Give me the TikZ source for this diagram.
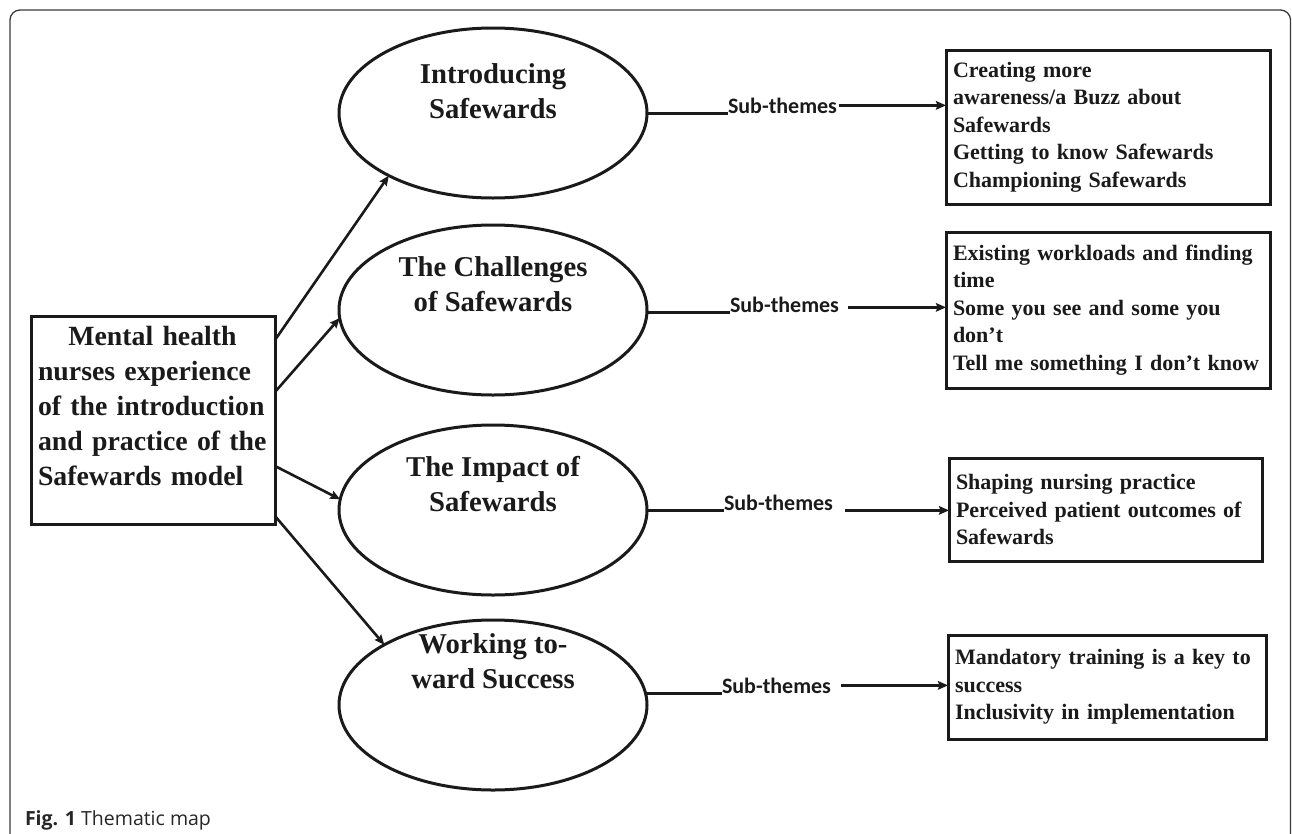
\documentclass[tikz,border=0pt]{standalone}
\usepackage{fontspec}
\setmainfont{Liberation Serif}
\newfontfamily\subfont{Carlito}
\newfontfamily\capfont{Open Sans}
\usetikzlibrary{shapes.geometric,arrows.meta,calc}
\definecolor{ink}{HTML}{1A1A1A}
\definecolor{framec}{HTML}{3A3A3A}
\begin{document}
\begin{tikzpicture}[x=1pt,y=-1pt,
  every node/.style={inner sep=0pt,outer sep=0pt,text=ink},
  theme/.style={ellipse,draw=ink,line width=3pt,minimum width=308pt,minimum height=170pt},
  themetext/.style={align=center,font=\fontsize{28.7}{35}\selectfont\bfseries},
  centrebox/.style={draw=ink,line width=3pt,minimum width=244pt,minimum height=208pt},
  centretext/.style={align=left,text width=300pt,anchor=north west,
    font=\fontsize{27.8}{35}\selectfont\bfseries},
  subbox/.style={draw=ink,line width=3pt,anchor=north west,align=left,inner xsep=7pt,
    font=\fontsize{22}{27.5}\selectfont\bfseries},
  subt/.style={anchor=base west,font=\subfont\fontsize{22}{26}\selectfont\bfseries},
  link/.style={draw=ink,line width=3pt},
  arr/.style={draw=ink,line width=2.6pt,-{Stealth[length=10pt,width=8.5pt,inset=1.5pt]}},
]
\useasboundingbox (0,0) rectangle (1292,833);
% outer frame
\draw[framec,line width=1.3pt,rounded corners=10pt] (10,860) -- (10,10) -- (1290.5,10) -- (1290.5,860);

% central box
\node[centrebox] (cb) at (153,420) {};
\node[centretext] (ct) at (38,326)
  {\makebox[229pt][c]{Mental health}\\nurses experience\\of the introduction\\and practice of the\\Safewards model};

% themes
\node[theme] (e1) at (493,113) {};
\node[theme] (e2) at (493,310) {};
\node[theme] (e3) at (493,510) {};
\node[theme] (e4) at (493,705) {};
\node[themetext] (t1) at (493,91) {Introducing\\Safewards};
\node[themetext] (t2) at (493,284.5) {The Challenges\\of Safewards};
\node[themetext] (t3) at (493,484.5) {The Impact of\\Safewards};
\node[themetext] (t4) at (493,661.5) {Working to-\\ward Success};

% arrows from central box
\draw[arr] ($(cb.north east)+(0,24)$) -- (e1.211);
\draw[arr] ($(cb.north east)+(0,76)$) -- (e2.183);
\draw[arr] ($(cb.north east)+(0,150)$) -- (e3.176);
\draw[arr] ($(cb.north east)+(0,200)$) -- (e4.151);

% sub-theme boxes
\node[subbox,text width=310pt,minimum height=154pt] (b1) at (946,50)
  {Creating more\\awareness/a Buzz about\\Safewards\\Getting to know Safewards\\Championing Safewards};
\node[subbox,text width=310pt,minimum height=156pt] (b2) at (946,232)
  {Existing workloads and finding\\time\\Some you see and some you\\don’t\\Tell me something I don’t know};
\node[subbox,text width=299pt,minimum height=103pt] (b3) at (949,458)
  {Shaping nursing practice\\Perceived patient outcomes of\\Safewards};
\node[subbox,text width=304pt,minimum height=104pt] (b4) at (948,635)
  {Mandatory training is a key to\\success\\Inclusivity in implementation};

% sub-theme labels and connectors
\node[subt] (s1) at (728,113) {Sub-themes};
\node[subt] (s2) at (730,312) {Sub-themes};
\node[subt] (s3) at (724,510) {Sub-themes};
\node[subt] (s4) at (722,693) {Sub-themes};

\draw[link] (e1.east |- s1.base west) -- (s1.base west);
\draw[link] (e2.east |- s2.base west) -- (s2.base west);
\draw[link] (e3.east |- s3.base west) -- (s3.base west);
\draw[link] (e4.east |- s4.base west) -- (s4.base west);

\coordinate (a1) at ([xshift=2pt]s1.east);
\coordinate (a2) at ([xshift=9pt,yshift=-3pt]s2.east);
\coordinate (a3) at ([xshift=12pt,yshift=-8pt]s3.east);
\coordinate (a4) at ([xshift=10pt]s4.east);
\draw[arr] (a1) -- (b1.west |- a1);
\draw[arr] (a2) -- (b2.west |- a2);
\draw[arr] (a3) -- (b3.west |- a3);
\draw[arr] (a4) -- (b4.west |- a4);

% caption
\node[anchor=base west,font=\capfont\fontsize{19.5}{22}\selectfont,text=black!85] (cap) at (25,825)
  {\textbf{Fig. 1} Thematic map};
\end{tikzpicture}
\end{document}
